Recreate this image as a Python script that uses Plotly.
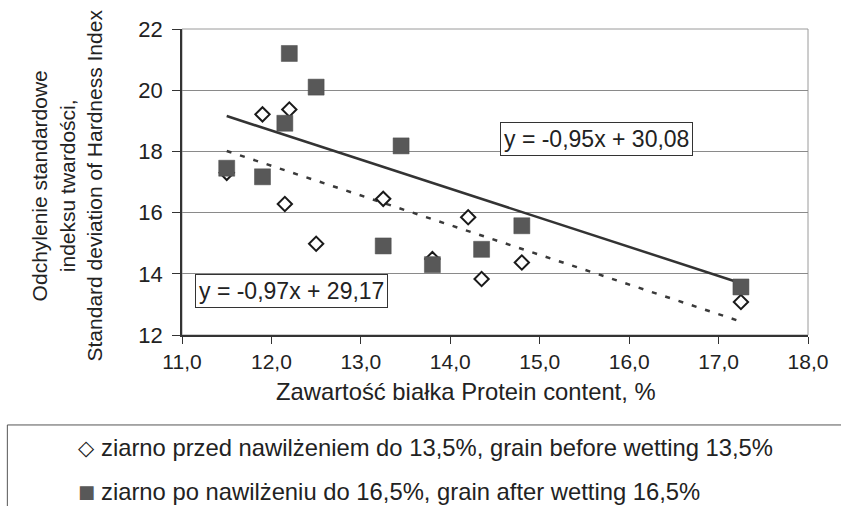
import plotly.graph_objects as go

# Data
protein_before = [11.5, 11.9, 12.15, 12.2, 12.5, 13.25, 13.8, 14.2, 14.35, 14.8, 17.25]
sd_before = [17.3, 19.21, 16.28, 19.37, 14.98, 16.45, 14.48, 15.85, 13.83, 14.37, 13.08]

protein_after = [11.5, 11.9, 12.15, 12.2, 12.5, 13.25, 13.45, 13.8, 14.35, 14.8, 17.25]
sd_after = [17.45, 17.17, 18.92, 21.2, 20.1, 14.91, 18.18, 14.3, 14.8, 15.57, 13.57]

# Trend line coefficients (slope, intercept)
trend_before = [-0.97, 29.17]
trend_after = [-0.95, 30.08]

x_ticks = [11, 12, 13, 14, 15, 16, 17, 18]
x_tick_text = ["11,0", "12,0", "13,0", "14,0", "15,0", "16,0", "17,0", "18,0"]
y_ticks = [12, 14, 16, 18, 20, 22]

name_before = "ziarno przed nawilżeniem do 13,5%, grain before wetting 13,5%"
name_after = "ziarno po nawilżeniu do 16,5%, grain after wetting 16,5%"

FONT = "Liberation Sans, Arial, sans-serif"
TXT = "#222222"
SQ_COLOR = "#585858"

def line_pts(xs, coef):
    x0, x1 = min(xs), max(xs)
    return [x0, x1], [coef[0] * x0 + coef[1], coef[0] * x1 + coef[1]]

fig = go.Figure()

lx, ly = line_pts(protein_before, trend_before)
fig.add_trace(go.Scatter(x=lx, y=ly, mode="lines", showlegend=False, hoverinfo="skip",
                         line=dict(color="#3a3a3a", width=2.5, dash="5px,9px")))
lx, ly = line_pts(protein_after, trend_after)
fig.add_trace(go.Scatter(x=lx, y=ly, mode="lines", showlegend=False, hoverinfo="skip",
                         line=dict(color="#333333", width=2.5)))

fig.add_trace(go.Scatter(x=protein_before, y=sd_before, mode="markers", name=name_before,
                         showlegend=False,
                         marker=dict(symbol="diamond", size=11, color="white",
                                     line=dict(color="#1a1a1a", width=2))))
fig.add_trace(go.Scatter(x=protein_after, y=sd_after, mode="markers", name=name_after,
                         showlegend=False,
                         marker=dict(symbol="square", size=16, color=SQ_COLOR,
                                     line=dict(color="#4a4a4a", width=0.5))))

legend_y = [-0.369, -0.511]

fig.update_layout(
    width=841, height=506,
    margin=dict(l=182, r=33, t=29, b=171, autoexpand=False),
    paper_bgcolor="white", plot_bgcolor="white",
    font=dict(family=FONT, size=20, color=TXT),
    showlegend=False,
    xaxis=dict(range=[11, 18], tickvals=x_ticks, ticktext=x_tick_text,
               showgrid=False, zeroline=False, showline=True, linecolor="#333333", linewidth=1.5,
               ticks="outside", ticklen=7, tickcolor="#333333",
               tickfont=dict(size=21, family=FONT, color=TXT)),
    yaxis=dict(range=[12, 22], tickvals=y_ticks,
               showgrid=True, gridcolor="#8a8a8a", gridwidth=1, zeroline=False,
               showline=True, linecolor="#333333", linewidth=1.5,
               ticks="outside", ticklen=8, tickcolor="#333333", ticklabelstandoff=5,
               tickfont=dict(size=22, family=FONT, color=TXT)),
    shapes=[
        dict(type="rect", xref="paper", yref="paper", x0=0, x1=1, y0=0, y1=1,
             line=dict(color="#9a9a9a", width=1), fillcolor="rgba(0,0,0,0)", layer="below"),
        dict(type="rect", xref="paper", yref="paper", x0=-0.279, x1=1.08, y0=-0.294, y1=-0.62,
             line=dict(color="#555555", width=1), fillcolor="rgba(0,0,0,0)"),
    ],
    annotations=[
        dict(text="Odchylenie standardowe<br>indeksu twardości,<br>Standard deviation of Hardness Index",
             xref="paper", yref="paper", x=-0.183, y=0.49, textangle=-90,
             showarrow=False, xanchor="center", yanchor="middle",
             font=dict(size=21, family=FONT, color=TXT)),
        dict(text="Zawartość białka Protein content, %", xref="paper", yref="paper",
             x=0.454, y=-0.186, showarrow=False, xanchor="center", yanchor="middle",
             font=dict(size=23.8, family=FONT, color=TXT)),
        dict(text="y = -0,95x + 30,08", xref="x", yref="y", x=15.64, y=18.39,
             showarrow=False, bgcolor="white", bordercolor="#333333", borderwidth=1, borderpad=3,
             font=dict(size=23, family=FONT, color=TXT)),
        dict(text="y = -0,97x + 29,17", xref="x", yref="y", x=12.22, y=13.44,
             showarrow=False, bgcolor="white", bordercolor="#333333", borderwidth=1, borderpad=3,
             font=dict(size=23, family=FONT, color=TXT)),
        # legend
        dict(text="<b>◇</b>", xref="paper", yref="paper", x=-0.153, y=legend_y[0],
             showarrow=False, xanchor="center", yanchor="middle",
             font=dict(size=21, family="DejaVu Sans", color="#1a1a1a")),
        dict(text=name_before, xref="paper", yref="paper", x=-0.133, y=legend_y[0],
             showarrow=False, xanchor="left", yanchor="middle",
             font=dict(size=23.8, family=FONT, color=TXT)),
        dict(text="■", xref="paper", yref="paper", x=-0.153, y=legend_y[1],
             showarrow=False, xanchor="center", yanchor="middle",
             font=dict(size=18, family="DejaVu Sans", color=SQ_COLOR)),
        dict(text=name_after, xref="paper", yref="paper", x=-0.133, y=legend_y[1],
             showarrow=False, xanchor="left", yanchor="middle",
             font=dict(size=23.8, family=FONT, color=TXT)),
    ],
)

fig.write_html("out.html", config={"displayModeBar": False},
               post_script="document.body.style.margin='0';")
